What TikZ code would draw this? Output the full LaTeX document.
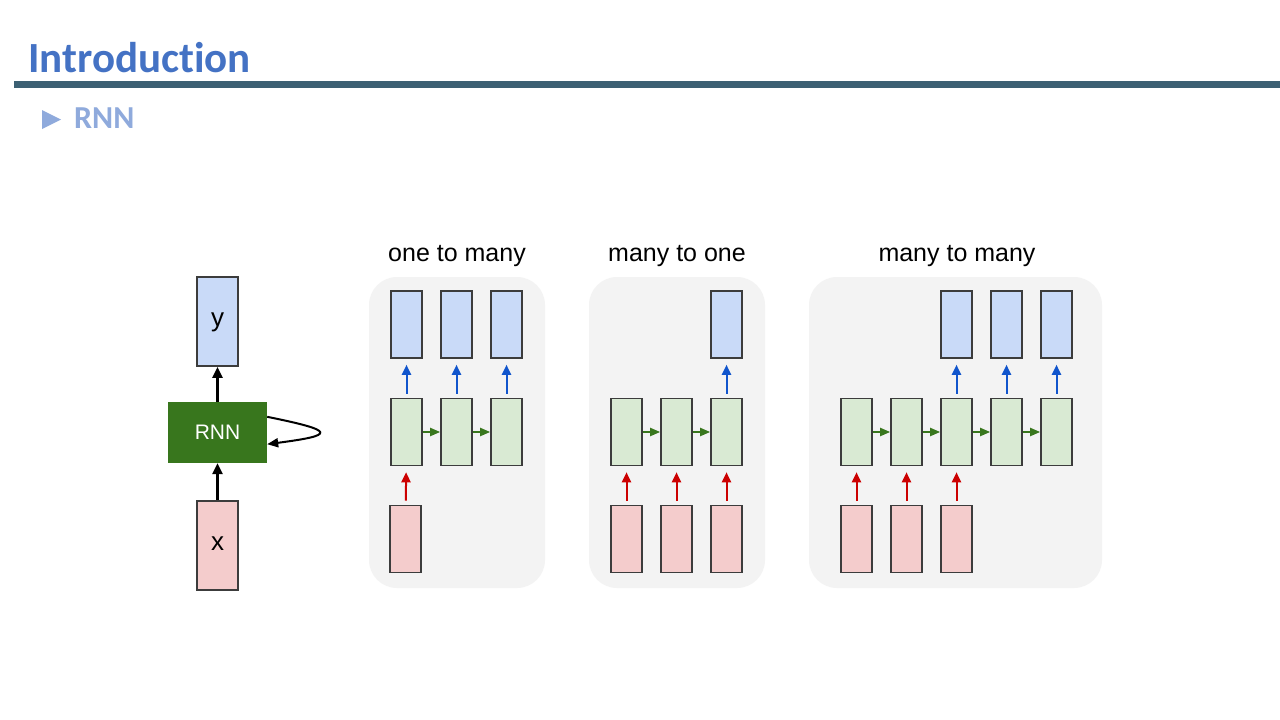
\documentclass[tikz,border=0pt]{standalone}
\usepackage{fontspec}
\setmainfont{Liberation Sans}
\newfontfamily\headfont[Ligatures=NoCommon]{Carlito}
\usetikzlibrary{positioning}
\usetikzlibrary{arrows.meta}

\definecolor{headblue}{RGB}{68,114,196}
\definecolor{subblue}{RGB}{143,170,220}
\definecolor{rulecol}{RGB}{60,96,115}
\definecolor{outfill}{RGB}{201,218,248}
\definecolor{hidfill}{RGB}{217,234,211}
\definecolor{infill}{RGB}{244,204,204}
\definecolor{rnngreen}{RGB}{56,118,29}
\definecolor{panelgray}{RGB}{243,243,243}
\definecolor{outarrow}{RGB}{17,85,204}
\definecolor{inarrow}{RGB}{204,0,0}
\definecolor{edgecol}{RGB}{60,60,60}

\tikzset{
    cell/.style={draw=edgecol, line width=1.6pt, minimum width=31pt, minimum height=67pt, inner sep=0pt},
    outcell/.style={cell, fill=outfill},
    hidcell/.style={cell, fill=hidfill},
    incell/.style={cell, fill=infill},
    panel/.style={fill=panelgray, rounded corners=28pt},
    paneltitle/.style={font=\fontsize{25}{25}\selectfont, inner sep=0pt},
    uparrow/.style={line width=2pt, -{Triangle[length=10pt,width=9pt]}, shorten <=4pt, shorten >=6pt},
    sidearrow/.style={line width=2pt, draw=rnngreen, -{Triangle[length=10pt,width=8pt]}},
    bigbox/.style={draw=edgecol, line width=1.6pt, minimum width=41pt, minimum height=89pt, inner sep=0pt, text height=0.52em+4pt, text depth=0pt, font=\fontsize{26}{26}\selectfont},
    bigarrow/.style={line width=2.5pt, -{Triangle[length=11pt,width=10pt]}}
}

\begin{document}
\begin{tikzpicture}[x=1pt,y=-1pt]
        %Page
            \useasboundingbox[fill=white] (0,0) rectangle (1280,720);
        %Header
            \node[anchor=base west, inner sep=0pt, text=headblue, font=\headfont\bfseries\fontsize{43}{43}\selectfont] (title) at (28,72) {Introduction};
            \fill[rulecol] (14,81) rectangle (1280,88);
            \fill[subblue] (42,110) -- (61,119.5) -- (42,129) -- cycle;
            \node[anchor=base west, inner sep=0pt, text=subblue, font=\headfont\bfseries\fontsize{32}{32}\selectfont] (sub) at (74,128) {RNN};
        %Folded RNN
            \node[bigbox, fill=outfill] (ybox) at (217.5,321.5) {y};
            \node[fill=rnngreen, text=white, minimum width=99pt, minimum height=61pt, inner sep=0pt, font=\fontsize{21}{21}\selectfont, below=35pt of ybox] (rnn) {RNN};
            \node[bigbox, fill=infill, below=37pt of rnn] (xbox) {x};
            \draw[bigarrow] (rnn) -- (ybox);
            \draw[bigarrow] (xbox) -- (rnn);
            \draw[line width=2pt, -{Triangle[length=11pt,width=9pt]}] ([yshift=-15pt]rnn.north east) .. controls +(69,14) and +(69,-9) .. ([yshift=19pt]rnn.south east);
        %Panels
            \fill[panel] (369,277) rectangle (545,588);
            \fill[panel] (589,277) rectangle (765,588);
            \fill[panel] (809,277) rectangle (1102,588);
            \node[paneltitle] (t1) at (457,256) {one to many};
            \node[paneltitle] (t2) at (677,256) {many to one};
            \node[paneltitle] (t3) at (957,256) {many to many};
        %One to many
            \foreach \i in {1,2,3}
            {
                \node[hidcell] (a-h\i) at (356.5+50*\i,432) {};
                \node[outcell] (a-o\i) at (356.5+50*\i,324.5) {};
                \draw[uparrow, draw=outarrow] (a-h\i) -- (a-o\i);
            }
            \node[incell] (a-i1) at (405.5,539) {};
            \draw[uparrow, draw=inarrow] (a-i1) -- (a-h1);
            \foreach \i/\j in {1/2,2/3}
                \draw[sidearrow] (a-h\i) -- (a-h\j);
        %Many to one
            \foreach \i in {1,2,3}
            {
                \node[hidcell] (b-h\i) at (576.5+50*\i,432) {};
                \node[incell] (b-i\i) at (576.5+50*\i,539) {};
                \draw[uparrow, draw=inarrow] (b-i\i) -- (b-h\i);
            }
            \node[outcell] (b-o3) at (726.5,324.5) {};
            \draw[uparrow, draw=outarrow] (b-h3) -- (b-o3);
            \foreach \i/\j in {1/2,2/3}
                \draw[sidearrow] (b-h\i) -- (b-h\j);
        %Many to many
            \foreach \i in {1,...,5}
                \node[hidcell] (c-h\i) at (806.5+50*\i,432) {};
            \foreach \i in {1,2,3}
            {
                \node[incell] (c-i\i) at (806.5+50*\i,539) {};
                \draw[uparrow, draw=inarrow] (c-i\i) -- (c-h\i);
            }
            \foreach \i in {3,4,5}
            {
                \node[outcell] (c-o\i) at (806.5+50*\i,324.5) {};
                \draw[uparrow, draw=outarrow] (c-h\i) -- (c-o\i);
            }
            \foreach \i/\j in {1/2,2/3,3/4,4/5}
                \draw[sidearrow] (c-h\i) -- (c-h\j);
    \end{tikzpicture}
\end{document}
